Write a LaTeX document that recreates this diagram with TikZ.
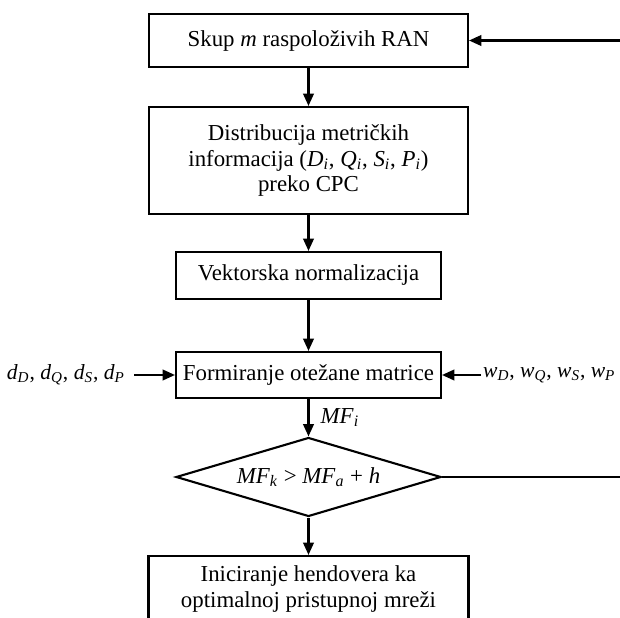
\documentclass[tikz,border=0pt]{standalone}
\usepackage{fontspec}
\setmainfont{Liberation Serif}
\usetikzlibrary{arrows.meta,shapes.geometric}
\newcommand{\mvar}[2]{\textit{#1}\textsubscript{\textit{#2}}}
\tikzset{
  blok/.style = {draw, line width = 1.2pt, align = center, inner sep = 0pt},
  odluka/.style = {draw, diamond, line width = 1.2pt, inner sep = 0pt, shape aspect = 3.35},
  bocni/.style = {inner sep = 1pt, font = \fontsize{12.3}{14.5}\selectfont},
  strelica/.style = {line width = 1.2pt, -{Triangle[length = 7pt, width = 6pt]}},
  linija/.style = {line width = 1.2pt}
}
\begin{document}
\begin{tikzpicture}[x = 0.02cm, y = -0.02cm, font = \fontsize{13}{14.5}\selectfont]
\useasboundingbox (0,0) rectangle (620,618);
\node[blok, minimum width = 6.38cm, minimum height = 1.06cm] (ran) at (308.5,40.5) {Skup \textit{m} raspoloživih RAN};
\node[blok, minimum width = 6.38cm, minimum height = 2.14cm] (cpc) at (308.5,160.5)
  {Distribucija metričkih\\ informacija (\mvar{D}{i}, \mvar{Q}{i}, \mvar{S}{i}, \mvar{P}{i})\\ preko CPC};
\node[blok, minimum width = 5.3cm, minimum height = 0.94cm] (norm) at (308.5,275.5) {Vektorska normalizacija};
\node[blok, minimum width = 5.3cm, minimum height = 0.92cm] (mat) at (308.5,375) {Formiranje otežane matrice};
\node[odluka, minimum width = 5.3cm, minimum height = 1.58cm] (uslov) at (308.5,477) {\mvar{MF}{k} > \mvar{MF}{a} + \textit{h}};
\node[blok, minimum width = 6.4cm, minimum height = 1.32cm] (hand) at (308.5,589)
  {Iniciranje hendovera ka\\ optimalnoj pristupnoj mreži};
\node[bocni, inner xsep = 5pt, anchor = east] (dlev) at (134,375) {\mvar{d}{D}, \mvar{d}{Q}, \mvar{d}{S}, \mvar{d}{P}};
\node[bocni, anchor = west] (wdes) at (481,375) {\mvar{w}{D}, \mvar{w}{Q}, \mvar{w}{S}, \mvar{w}{P}};
\coordinate (k1) at (622,477);
\coordinate (k2) at (622,40.5);
\draw[strelica] (ran) -- (cpc);
\draw[strelica] (cpc) -- (norm);
\draw[strelica] (norm) -- (mat);
\draw[strelica] (mat) -- node[right, xshift = 3pt] (mfi) {\mvar{MF}{i}} (uslov);
\draw[strelica] (uslov) -- (hand);
\draw[strelica] (dlev) -- (mat);
\draw[strelica] (wdes) -- (mat);
\draw[linija] (uslov.east) -- (k1) -- (k2);
\draw[strelica] (k2) -- (ran);
\end{tikzpicture}
\end{document}
